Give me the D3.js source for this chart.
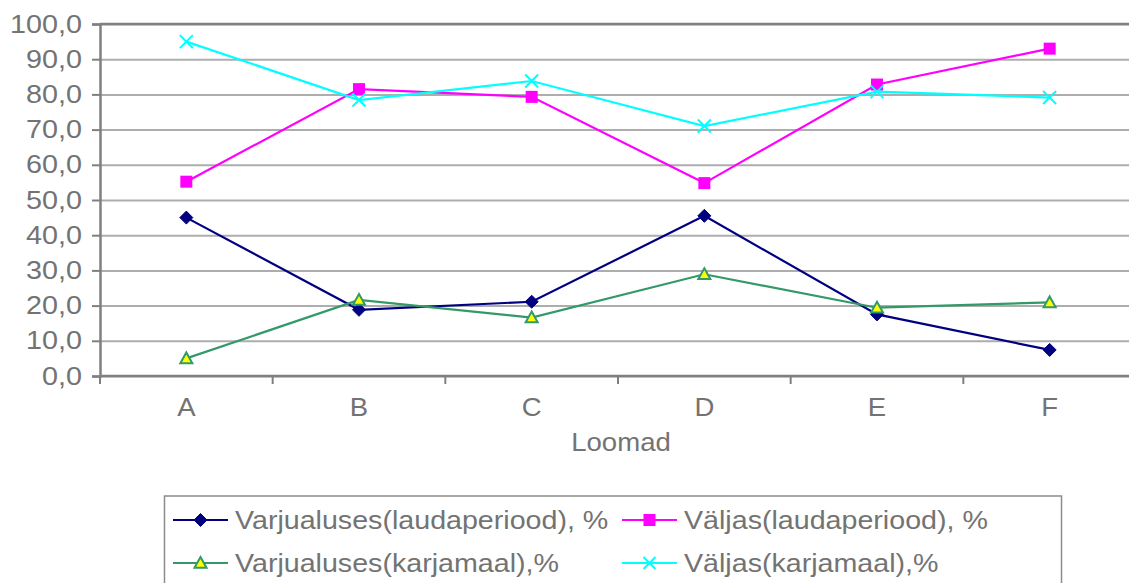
<!DOCTYPE html>
<html>
<head>
<meta charset="utf-8">
<script src="https://cdn.jsdelivr.net/npm/d3@7"></script>
<style>
  html, body { margin: 0; padding: 0; background: #fff; }
  svg { display: block; }
  text { font-family: "Liberation Sans", Arial, sans-serif; fill: #737373; }
</style>
</head>
<body>
<svg id="chart" width="1129" height="583"></svg>
<script>
// Categories (animals) and the four series, in percent
const categories = ["A", "B", "C", "D", "E", "F"];
const varjualusesLaudaperiood = [45.0, 18.8, 21.1, 45.5, 17.5, 7.4];
const valjasLaudaperiood      = [55.2, 81.5, 79.3, 54.8, 82.8, 93.0];
const varjualusesKarjamaal    = [5.0, 21.6, 16.6, 28.9, 19.4, 20.9];
const valjasKarjamaal         = [95.0, 78.4, 83.8, 71.0, 80.8, 79.1];
const yTicks = [0, 10, 20, 30, 40, 50, 60, 70, 80, 90, 100];
const seriesNames = [
  "Varjualuses(laudaperiood), %",
  "Väljas(laudaperiood), %",
  "Varjualuses(karjamaal),%",
  "Väljas(karjamaal),%"
];
const xTitle = "Loomad";

const series = [
  { name: seriesNames[0], values: varjualusesLaudaperiood, color: "#000080", marker: "diamond" },
  { name: seriesNames[1], values: valjasLaudaperiood,      color: "#ff00ff", marker: "square" },
  { name: seriesNames[2], values: varjualusesKarjamaal,    color: "#339966", marker: "triangle" },
  { name: seriesNames[3], values: valjasKarjamaal,         color: "#00ffff", marker: "cross" }
];

const svg = d3.select("#chart");
const plotLeft = 100, plotTop = 24, plotBottom = 376, plotRight = 1136;

const x = d3.scaleBand().domain(categories).range([plotLeft, plotRight]);
const y = d3.scaleLinear().domain([0, 100]).range([plotBottom, plotTop]);
const cx = c => x(c) + x.bandwidth() / 2;

// Widen text glyphs horizontally while keeping their anchor point in place
function stretch(sel, sx) {
  sel.each(function () {
    const t = d3.select(this);
    const x0 = +t.attr("x") || 0;
    t.attr("x", x0 / sx).attr("transform", `scale(${sx},1)`);
  });
}

// Horizontal gridlines
const grid = svg.append("g")
  .attr("transform", `translate(${plotLeft},0)`)
  .call(d3.axisLeft(y).tickValues(yTicks).tickSize(-(plotRight - plotLeft)).tickFormat(""));
grid.select(".domain").remove();
grid.selectAll(".tick line").attr("stroke", "#adadad").attr("stroke-width", 2);

// Plot-area top border
svg.append("line")
  .attr("x1", plotLeft).attr("x2", plotRight).attr("y1", y(100)).attr("y2", y(100))
  .attr("stroke", "#808080").attr("stroke-width", 2.5);

// Y axis with tick labels
const yAxis = svg.append("g")
  .attr("transform", `translate(${plotLeft},0)`)
  .call(d3.axisLeft(y).tickValues(yTicks).tickSize(8).tickPadding(10)
    .tickFormat(d => d.toFixed(1).replace(".", ",")));
yAxis.select(".domain").attr("stroke", "#808080").attr("stroke-width", 2.5);
yAxis.selectAll(".tick line").attr("stroke", "#808080").attr("stroke-width", 2);
yAxis.selectAll(".tick text")
  .attr("font-size", 25).attr("fill", "#737373")
  .style("font-family", "'Liberation Sans', Arial, sans-serif")
  .call(stretch, 1.15);

// X axis: labels at category centres, tick marks between categories
const xAxis = svg.append("g")
  .attr("transform", `translate(0,${plotBottom})`)
  .call(d3.axisBottom(x).tickSize(0).tickPadding(22));
xAxis.select(".domain").remove();
xAxis.selectAll(".tick text")
  .attr("font-size", 26).attr("fill", "#737373")
  .style("font-family", "'Liberation Sans', Arial, sans-serif")
  .call(stretch, 1.06);

svg.append("line")
  .attr("x1", plotLeft).attr("x2", plotRight).attr("y1", plotBottom).attr("y2", plotBottom)
  .attr("stroke", "#808080").attr("stroke-width", 2.5);
svg.append("g").selectAll("line")
  .data(categories.map(c => x(c)).concat([plotRight]))
  .join("line")
  .attr("x1", d => d).attr("x2", d => d)
  .attr("y1", plotBottom).attr("y2", plotBottom + 8)
  .attr("stroke", "#808080").attr("stroke-width", 2);

svg.append("g").attr("transform", `translate(${(plotLeft + plotRight) / 2 + 3},451)`)
  .append("text")
  .attr("text-anchor", "middle").attr("font-size", 26)
  .text(xTitle)
  .call(stretch, 1.06);

// Marker drawing
function drawMarker(g, type, color, size) {
  const s = size / 2;
  if (type === "diamond") {
    g.append("path").attr("d", `M0,${-s}L${s},0L0,${s}L${-s},0Z`)
      .attr("fill", color).attr("stroke", color).attr("stroke-width", 1);
  } else if (type === "square") {
    g.append("rect").attr("x", -s).attr("y", -s)
      .attr("width", size).attr("height", size).attr("fill", color);
  } else if (type === "triangle") {
    g.append("path").attr("d", `M0,${-s}L${s},${s * 0.8}L${-s},${s * 0.8}Z`)
      .attr("fill", "#ffff00").attr("stroke", color).attr("stroke-width", 2);
  } else if (type === "cross") {
    g.append("path").attr("d", `M${-s},${-s}L${s},${s}M${-s},${s}L${s},${-s}`)
      .attr("stroke", color).attr("stroke-width", 2).attr("fill", "none");
  }
}

const line = d3.line().x(d => cx(d.c)).y(d => y(d.v));

series.forEach(s => {
  const pts = categories.map((c, i) => ({ c, v: s.values[i] }));
  const g = svg.append("g");
  g.append("path").datum(pts).attr("d", line)
    .attr("fill", "none").attr("stroke", s.color).attr("stroke-width", 2.2);
  pts.forEach(p => {
    const m = g.append("g").attr("transform", `translate(${cx(p.c)},${y(p.v)})`);
    drawMarker(m, s.marker, s.color, s.marker === "diamond" ? 13 : (s.marker === "cross" ? 13 : 12));
  });
});

// Legend
const legend = svg.append("g");
legend.append("rect")
  .attr("x", 164.5).attr("y", 496).attr("width", 897).attr("height", 100)
  .attr("fill", "#fff").attr("stroke", "#8c8c8c").attr("stroke-width", 1.5);

const legendPos = [
  { lx: 173, ty: 520 }, { lx: 622, ty: 520 },
  { lx: 173, ty: 563 }, { lx: 622, ty: 563 }
];
series.forEach((s, i) => {
  const p = legendPos[i];
  const g = legend.append("g").attr("transform", `translate(${p.lx},${p.ty})`);
  g.append("line").attr("x1", 0).attr("x2", 55).attr("y1", 0).attr("y2", 0)
    .attr("stroke", s.color).attr("stroke-width", 2.2);
  const m = g.append("g").attr("transform", "translate(27.5,0)");
  drawMarker(m, s.marker, s.color, s.marker === "diamond" ? 13 : 12);
  const tg = g.append("g").attr("transform", "translate(62,0)");
  tg.append("text").attr("x", 0).attr("y", 0).attr("dy", "0.35em")
    .attr("font-size", 26.5).text(s.name)
    .call(stretch, 1.08);
});
</script>
</body>
</html>
